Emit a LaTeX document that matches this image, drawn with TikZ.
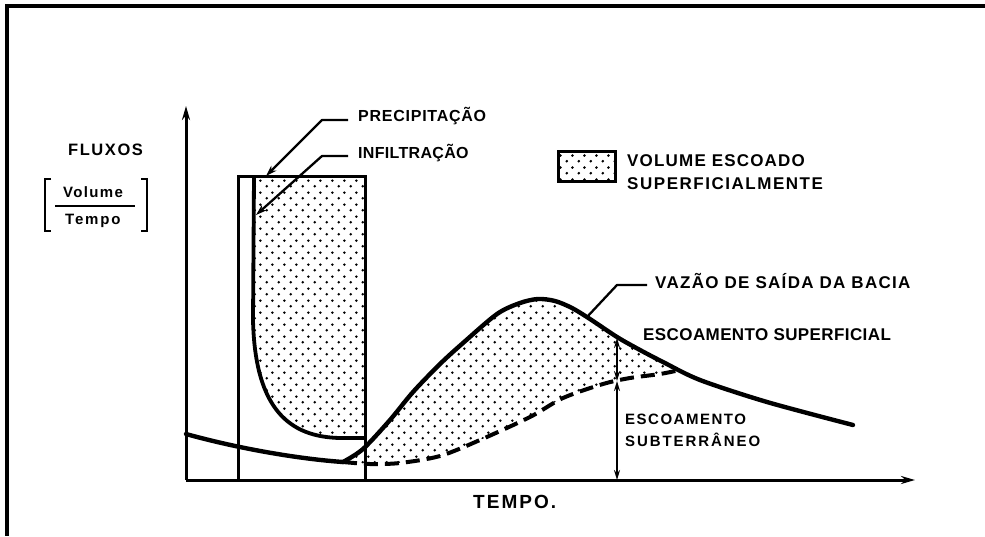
\documentclass[tikz,border=0pt]{standalone}
\usepackage{fontspec}
\newfontfamily\lett{Liberation Sans}
\usetikzlibrary{arrows.meta,patterns.meta}
\tikzdeclarepattern{
  name=stipple,
  type=uncolored,
  bounding box={(0pt,0pt) and (12pt,12pt)},
  tile size={(12pt,12pt)},
  code={
    \fill (3pt,3pt) circle (1.5pt);
    \fill (9pt,9pt) circle (1.5pt);
  }
}
\newcommand\lf[2]{\lett\bfseries\fontsize{#1}{#1}\selectfont\addfontfeatures{LetterSpace=#2}}
\begin{document}
\begin{tikzpicture}[x=1pt,y=-1pt,
  lab/.style={anchor=base west, inner sep=0pt},
  axisline/.style={line width=3pt, -{Stealth[length=14pt,width=8pt]}},
  boxline/.style={line width=3pt},
  curve/.style={line width=4.4pt, line cap=round, line join=round},
  infl/.style={line width=3.8pt, line join=round},
  dashcurve/.style={line width=4pt, dash pattern=on 14pt off 7pt},
  leader/.style={line width=2.3pt, line join=round},
  leadarrow/.style={leader, -{Stealth[length=11pt,width=7pt]}},
  dim/.style={line width=2.2pt, {Stealth[length=10pt,width=6pt]}-{Stealth[length=10pt,width=6pt]}},
  dots/.style={pattern=stipple, pattern color=black}
]
\useasboundingbox (0,0) rectangle (985,536);

% frame
\coordinate (fTR) at (985,6);
\coordinate (fTL) at (7,6);
\coordinate (fBL) at (7,536);
\draw[line width=3.5pt] (fTR) -- (fTL) -- (fBL);

% key coordinates
\coordinate (O) at (186,480);
\coordinate (Ytip) at (186,106);
\coordinate (Xtip) at (915,480);
\coordinate (RBL) at (238,480);
\coordinate (RTL) at (238,176);
\coordinate (RTR) at (365,176);
\coordinate (RBR) at (365,480);
\coordinate (I0) at (254,176);
\coordinate (I1) at (365,438);
\coordinate (B0) at (186,434);
\coordinate (B1) at (343,462);
\coordinate (D1) at (680,370);
\coordinate (VA) at (617,338);
\coordinate (VB) at (617,381);
\coordinate (VC) at (617,480);

% stippled areas
\fill[dots] (I0) -- (253,320) .. controls (255,410) and (290,437) .. (340,438) -- (I1) -- (RTR) -- cycle;
\fill[dots] plot[smooth] coordinates {(343,462) (363,449) (390,420) (413,392) (440,364) (463,343) (497,314) (520,303) (538,299) (555,301) (572,308) (590,319) (617,337) (640,350) (663,362) (680,370)}
  -- plot[smooth] coordinates {(680,370) (660,374) (630,378) (603,384) (563,398) (530,417) (480,440) (440,456) (400,463) (370,464) (343,462)} -- cycle;

% axes
\draw[axisline] (O) -- (Ytip);
\draw[axisline] (O) -- (Xtip);

% precipitation rectangle
\draw[boxline] (RBL) -- (RTL) -- (RTR) -- (RBR);

% infiltration curve
\draw[infl] (I0) -- (253,320) .. controls (255,410) and (290,437) .. (340,438) -- (I1);

% base flow before event
\draw[curve] (B0) .. controls (240,449) and (300,459) .. (B1);

% outflow hydrograph
\draw[curve] plot[smooth] coordinates {(343,462) (363,449) (390,420) (413,392) (440,364) (463,343) (497,314) (520,303) (538,299) (555,301) (572,308) (590,319) (617,337) (640,350) (663,362) (700,380) (767,402) (853,425)};

% groundwater separation (dashed)
\draw[dashcurve] plot[smooth] coordinates {(343,462) (370,464) (400,463) (440,456) (480,440) (530,417) (563,398) (603,384) (630,378) (660,374) (680,370)};

% dimension arrows
\draw[dim] (VA) -- (VB);
\draw[dim] (VB) -- (VC);

% legend box
\node[draw, line width=3.4pt, dots, minimum width=57pt, minimum height=30pt, inner sep=0pt] (leg) at (587,166.5) {};

% labels
\node[lab, font=\lf{16.5}{9.5}] (fluxos) at (68,155) {FLUXOS};
\node[lab, font=\lf{15}{9}] (vol) at (63,197) {Volume};
\node[lab, font=\lf{15}{12}] (tmp) at (65,224) {Tempo};
\coordinate (fracL) at (55,206);
\coordinate (fracR) at (135,206);
\draw[line width=2pt] (fracL) -- (fracR);
\coordinate (lbT) at (51,179); \coordinate (lbB) at (51,231);
\coordinate (rbT) at (141,179); \coordinate (rbB) at (141,231);
\draw[line width=2.8pt] (lbT) -- ++(-6,0) |- (lbB);
\draw[line width=2.8pt] (rbT) -- ++(6,0) |- (rbB);

\node[lab, font=\lf{16}{4.7}] (precip) at (358,121) {PRECIPITAÇÃO};
\node[lab, font=\lf{16}{2}] (infil) at (358,158) {INFILTRAÇÃO};
\node[lab, font=\lf{17}{7}] (leg1) at (627,166.5) {VOLUME ESCOADO};
\node[lab, font=\lf{17}{9}] (leg2) at (627,189) {SUPERFICIALMENTE};
\node[lab, font=\lf{17}{7.6}] (vazao) at (655,288) {VAZÃO DE SAÍDA DA BACIA};
\node[lab, font=\lf{17}{2.4}] (esup) at (643,340) {ESCOAMENTO SUPERFICIAL};
\node[lab, font=\lf{15}{10}] (esub1) at (625,424) {ESCOAMENTO};
\node[lab, font=\lf{15}{12.8}] (esub2) at (625,446) {SUBTERRÂNEO};
\node[lab, font=\lf{19}{10.7}] (tempo) at (473,508) {TEMPO.};

% leaders
\coordinate (pL) at (348,120); \coordinate (pK) at (322,120); \coordinate (pT) at (266,176);
\draw[leadarrow] (pL) -- (pK) -- (pT);
\coordinate (iL) at (348,156); \coordinate (iK) at (322,156); \coordinate (iT) at (256,215);
\draw[leadarrow] (iL) -- (iK) -- (iT);
\coordinate (vL) at (647,285); \coordinate (vK) at (617,285); \coordinate (vT) at (587,317);
\draw[leader] (vL) -- (vK) -- (vT);
\end{tikzpicture}
\end{document}
